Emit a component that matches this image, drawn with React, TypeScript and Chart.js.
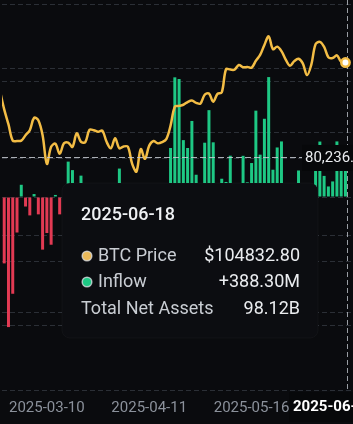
import React, { useEffect, useRef } from 'react';
import { Chart, registerables } from 'chart.js';

Chart.register(...registerables);

// ---- data ----
const dates = [
  '2025-02-21', '2025-02-24', '2025-02-25', '2025-02-26', '2025-02-27', '2025-02-28',
  '2025-03-03', '2025-03-04', '2025-03-05', '2025-03-06', '2025-03-07',
  '2025-03-10', '2025-03-11', '2025-03-12', '2025-03-13', '2025-03-14',
  '2025-03-17', '2025-03-18', '2025-03-19', '2025-03-20', '2025-03-21',
  '2025-03-24', '2025-03-25', '2025-03-26', '2025-03-27', '2025-03-28',
  '2025-03-31', '2025-04-01', '2025-04-02', '2025-04-03', '2025-04-04',
  '2025-04-07', '2025-04-08', '2025-04-09', '2025-04-10', '2025-04-11',
  '2025-04-14', '2025-04-15', '2025-04-16', '2025-04-17',
  '2025-04-21', '2025-04-22', '2025-04-23', '2025-04-24', '2025-04-25',
  '2025-04-28', '2025-04-29', '2025-04-30', '2025-05-01', '2025-05-02',
  '2025-05-05', '2025-05-06', '2025-05-07', '2025-05-08', '2025-05-09',
  '2025-05-12', '2025-05-13', '2025-05-14', '2025-05-15', '2025-05-16',
  '2025-05-19', '2025-05-20', '2025-05-21', '2025-05-22', '2025-05-23',
  '2025-05-27', '2025-05-28', '2025-05-29', '2025-05-30',
  '2025-06-02', '2025-06-03', '2025-06-04', '2025-06-05', '2025-06-06',
  '2025-06-09', '2025-06-10', '2025-06-11', '2025-06-12', '2025-06-13',
  '2025-06-16', '2025-06-17', '2025-06-18',
];

const btcPrice = [
  97500, 92700, 88800, 84600, 84500, 84600,
  86000, 87300, 90500, 89900, 86000,
  78600, 83000, 83800, 81200, 83900,
  84100, 83000, 86500, 84300, 84200,
  87400, 87300, 86900, 87200, 84300,
  82600, 85200, 82600, 83100, 83000,
  78600, 76600, 82400, 79900, 83300,
  84500, 83900, 84200, 85000,
  88500, 93400, 93600, 93900, 94600,
  95000, 94400, 94200, 96500, 96800,
  94700, 96700, 97100, 103100, 103000,
  103000, 104200, 103600, 103700, 103500,
  105300, 106800, 109400, 111600, 108300,
  108950, 107800, 105600, 104000,
  105200, 105800, 104600, 101600, 104300,
  109600, 110200, 108900, 106200, 106000,
  106700, 105000, 104832.8,
];

// daily net inflow, US$ millions
const netInflow = [
  -62, -516, -1011, -752, -276, 95,
  -74, -143, 23, -135, -409,
  -280, -371, 16, -135, -22,
  275, 209, 12, 166, 83,
  84, 27, 90, 89, -93,
  61, -158, 221, -100, -65,
  -109, -326, -127, -150, 15,
  2, 76, -170, 108,
  381, 930, 917, 442, 381,
  591, 173, 3, 422, 675,
  425, -86, 142, 117, 321,
  -96, 18, 320, 114, 264,
  671, 329, 608, 932, 212,
  385, 432, -347, -616,
  -268, 206, -130, -278, -48,
  386, 431, 164, 82, 121,
  432, 216, 388.3,
];

const xTickDates = ['2025-03-10', '2025-04-11', '2025-05-16'];
const priceTicks = [20000, 40000, 60000, 80000, 100000, 120000];
const flowTicks = [-1500, -1000, -500, 0, 500, 1000, 1500];
const hoverDate = '2025-06-18';
const cursorPrice = 80236.47;
const totalNetAssetsB = 98.12;
const tooltipLabels = ['BTC Price', 'Inflow', 'Total Net Assets'];

// ---- styles ----
const BG = '#0a0b0e';
const GRID = '#2b2f36';
const YELLOW = '#f3bd45';
const GREEN = '#1ec884';
const RED = '#e23a53';
const FONT = 'Roboto, "Noto Sans", sans-serif';

export default function App() {
  const ref = useRef<HTMLCanvasElement>(null);

  useEffect(() => {
    document.body.style.margin = '0';
    document.body.style.background = BG;
    const canvas = ref.current!;
    const hoverIdx = dates.indexOf(hoverDate);
    const firstTickIdx = dates.indexOf(xTickDates[0]);
    const step = 4.29;
    const xMin = firstTickIdx - 45.1 / step;
    const xMax = xMin + 353 / step;

    const fmtPrice = (v: number) => '$' + v.toFixed(2);
    const fmtFlow = (v: number) => (v >= 0 ? '+' : '') + v.toFixed(2) + 'M';
    const fmtCursor = (v: number) =>
      v.toLocaleString('en-US', { minimumFractionDigits: 2, maximumFractionDigits: 2 });

    const overlay = {
      id: 'overlay',
      beforeDraw(chart: any) {
        const { ctx, width, height } = chart;
        ctx.save();
        ctx.fillStyle = BG;
        ctx.fillRect(0, 0, width, height);
        ctx.restore();
      },
      beforeDatasetsDraw(chart: any) {
        const { ctx, chartArea, scales } = chart;
        const x = Math.round(scales.x.getPixelForValue(hoverIdx) + 1.5) + 0.5;
        ctx.save();
        ctx.strokeStyle = 'rgba(190,195,202,0.8)';
        ctx.lineWidth = 1;
        ctx.setLineDash([5, 3]);
        ctx.beginPath();
        ctx.moveTo(x, 0);
        ctx.lineTo(x, chartArea.bottom);
        ctx.stroke();
        ctx.restore();
      },
      afterDatasetsDraw(chart: any) {
        const { ctx, chartArea, scales } = chart;
        const y = Math.round(scales.yPrice.getPixelForValue(cursorPrice)) + 0.5;
        ctx.save();
        ctx.strokeStyle = 'rgba(200,204,210,0.85)';
        ctx.lineWidth = 1;
        ctx.setLineDash([6, 3]);
        ctx.beginPath();
        ctx.moveTo(chartArea.left, y);
        ctx.lineTo(chartArea.right, y);
        ctx.stroke();
        ctx.restore();
      },
      afterDraw(chart: any) {
        const { ctx, scales } = chart;
        ctx.save();
        // y cursor label
        const cy = scales.yPrice.getPixelForValue(cursorPrice);
        ctx.fillStyle = '#07080a';
        ctx.fillRect(302, cy - 12.5, 80, 26);
        ctx.fillStyle = '#eaecef';
        ctx.font = `15px ${FONT}`;
        ctx.textBaseline = 'middle';
        ctx.textAlign = 'left';
        ctx.fillText(fmtCursor(cursorPrice), 305, cy + 0.5);

        // x cursor label
        ctx.fillStyle = '#07080a';
        ctx.fillRect(289, 392, 90, 30);
        ctx.fillStyle = '#ffffff';
        ctx.font = `bold 15px ${FONT}`;
        ctx.fillText(hoverDate, 293, 407);

        // tooltip box
        ctx.beginPath();
        ctx.roundRect(62, 183, 256, 155, 8);
        ctx.fillStyle = '#0c0d11';
        ctx.fill();
        ctx.strokeStyle = 'rgba(255,255,255,0.03)';
        ctx.lineWidth = 1;
        ctx.stroke();

        ctx.textBaseline = 'middle';
        ctx.textAlign = 'left';
        ctx.fillStyle = '#eef0f3';
        ctx.font = `500 18px ${FONT}`;
        ctx.fillText(hoverDate, 81, 215);

        const values = [
          fmtPrice(btcPrice[hoverIdx]),
          fmtFlow(netInflow[hoverIdx]),
          totalNetAssetsB.toFixed(2) + 'B',
        ];
        const dotColors = ['#eab95a', GREEN, null];
        const rowsY = [256, 282, 309];
        tooltipLabels.forEach((label, i) => {
          const y = rowsY[i];
          let lx = 81;
          const dc = dotColors[i];
          if (dc) {
            ctx.beginPath();
            ctx.arc(87, y, 4.8, 0, Math.PI * 2);
            ctx.fillStyle = dc;
            ctx.fill();
            ctx.lineWidth = 1.5;
            ctx.strokeStyle = 'rgba(225,228,232,0.75)';
            ctx.stroke();
            lx = 98;
          }
          ctx.font = `18px ${FONT}`;
          ctx.textAlign = 'left';
          ctx.fillStyle = '#c9cdd3';
          ctx.fillText(label, lx, y);
          ctx.textAlign = 'right';
          ctx.fillStyle = '#eaecef';
          ctx.fillText(values[i], 300, y);
        });
        ctx.restore();
      },
    };

    const chart = new Chart(canvas, {
      type: 'bar',
      data: {
        datasets: [
          {
            type: 'line',
            label: 'BTC Price',
            data: btcPrice.map((v, i) => ({ x: i, y: v })),
            yAxisID: 'yPrice',
            borderColor: YELLOW,
            borderWidth: 2.5,
            tension: 0.35,
            pointRadius: (c: any) => (c.dataIndex === hoverIdx ? 4.2 : 0),
            pointBackgroundColor: '#ffffff',
            pointBorderColor: YELLOW,
            pointBorderWidth: 2.5,
            order: 0,
          } as any,
          {
            type: 'bar',
            label: 'Inflow',
            data: netInflow.map((v, i) => ({ x: i, y: v })),
            yAxisID: 'yFlow',
            backgroundColor: netInflow.map((v) => (v >= 0 ? GREEN : RED)),
            borderWidth: 0,
            categoryPercentage: 1,
            barPercentage: 0.7,
            order: 1,
          } as any,
        ],
      },
      options: {
        responsive: false,
        devicePixelRatio: 1,
        animation: false,
        events: [],
        layout: { autoPadding: false, padding: { top: 4, left: 0, right: 0, bottom: 0 } },
        plugins: {
          legend: { display: false },
          tooltip: { enabled: false },
        },
        scales: {
          x: {
            type: 'linear',
            min: xMin,
            max: xMax,
            offset: false,
            grid: { display: false, drawTicks: false },
            border: { display: false },
            afterBuildTicks: (s: any) => {
              s.ticks = xTickDates.map((d) => ({ value: dates.indexOf(d) }));
            },
            afterFit: (s: any) => {
              s.height = 34;
            },
            ticks: {
              autoSkip: false,
              maxRotation: 0,
              padding: 9,
              color: '#8b919b',
              font: { family: FONT, size: 15 },
              callback: (v: any) => dates[v as number] ?? '',
            },
          },
          yPrice: {
            type: 'linear',
            position: 'right',
            min: priceTicks[0],
            max: priceTicks[priceTicks.length - 1],
            afterBuildTicks: (s: any) => {
              s.ticks = priceTicks.map((v) => ({ value: v }));
            },
            afterFit: (s: any) => {
              s.width = 0;
            },
            ticks: { display: false },
            grid: { color: GRID, lineWidth: 1, drawTicks: false },
            border: { display: false, dash: [5, 3] },
          },
          yFlow: {
            type: 'linear',
            position: 'left',
            min: flowTicks[0],
            max: flowTicks[flowTicks.length - 1],
            afterBuildTicks: (s: any) => {
              s.ticks = flowTicks.map((v) => ({ value: v }));
            },
            afterFit: (s: any) => {
              s.width = 0;
            },
            ticks: { display: false },
            grid: { color: GRID, lineWidth: 1, drawTicks: false },
            border: { display: false, dash: [5, 3] },
          },
        },
      } as any,
      plugins: [overlay],
    });

    return () => chart.destroy();
  }, []);

  return (
    <canvas
      ref={ref}
      width={353}
      height={424}
      style={{ display: 'block', width: 353, height: 424 }}
    />
  );
}
